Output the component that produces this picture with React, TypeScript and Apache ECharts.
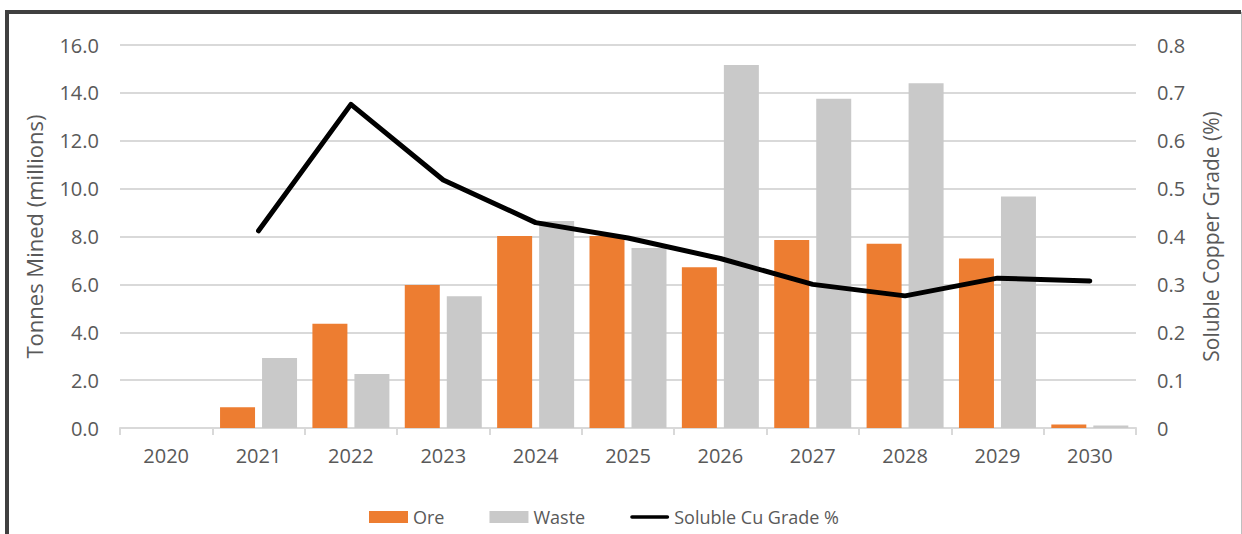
import React, { useEffect, useRef } from "react";
import * as echarts from "echarts";

const years = ["2020", "2021", "2022", "2023", "2024", "2025", "2026", "2027", "2028", "2029", "2030"];
const oreValues = [0, 0.87, 4.35, 5.97, 8.02, 8.02, 6.72, 7.85, 7.7, 7.08, 0.15];
const wasteValues = [0, 2.92, 2.26, 5.5, 8.65, 7.52, 15.16, 13.75, 14.4, 9.67, 0.1];
const gradeValues: (number | null)[] = [null, 0.412, 0.676, 0.518, 0.429, 0.397, 0.354, 0.3, 0.276, 0.313, 0.307];

const FONT = "'Open Sans', sans-serif";
const TEXT_GRAY = "#595959";

export default function App() {
  const ref = useRef<HTMLDivElement>(null);
  useEffect(() => {
    if (!ref.current) return;
    const chart = echarts.init(ref.current, undefined, { renderer: "svg" });
    chart.setOption({
      animation: false,
      backgroundColor: "#ffffff",
      textStyle: { fontFamily: FONT },
      grid: { left: 120, right: 106, top: 45, bottom: 106, containLabel: false },
      legend: {
        left: 364,
        top: 503,
        itemWidth: 39,
        itemHeight: 12,
        itemGap: 45,
        textStyle: { color: TEXT_GRAY, fontSize: 18, fontFamily: FONT },
        data: [
          { name: "Ore", icon: "rect" },
          { name: "Waste", icon: "rect" },
          {
            name: "Soluble Cu Grade %",
            icon: "path://M2,0 H41 A2,2 0 0 1 41,4 H2 A2,2 0 0 1 2,0 Z",
          },
        ],
      },
      xAxis: {
        type: "category",
        data: years,
        axisLine: { lineStyle: { color: "#d9d9d9", width: 2 } },
        axisTick: { show: true, length: 7, lineStyle: { color: "#d9d9d9", width: 2 } },
        axisLabel: { color: TEXT_GRAY, fontSize: 20, margin: 17, fontFamily: FONT },
      },
      yAxis: [
        {
          type: "value",
          min: 0,
          max: 16,
          interval: 2,
          name: "Tonnes Mined (millions)",
          nameLocation: "middle",
          nameGap: 75,
          nameTextStyle: { color: TEXT_GRAY, fontSize: 22, fontFamily: FONT },
          axisLine: { show: false },
          axisTick: { show: false },
          axisLabel: {
            color: TEXT_GRAY,
            fontSize: 20,
            margin: 21,
            fontFamily: FONT,
            formatter: (v: number) => v.toFixed(1),
          },
          splitLine: { lineStyle: { color: "#d9d9d9", width: 2 } },
        },
        {
          type: "value",
          min: 0,
          max: 0.8,
          interval: 0.1,
          name: "Soluble Copper Grade (%)",
          nameLocation: "middle",
          nameGap: 64,
          nameTextStyle: { color: TEXT_GRAY, fontSize: 21, fontFamily: FONT },
          axisLine: { show: false },
          axisTick: { show: false },
          axisLabel: {
            color: TEXT_GRAY,
            fontSize: 20,
            margin: 21,
            fontFamily: FONT,
            formatter: (v: number) => (v === 0 ? "0" : v.toFixed(1)),
          },
          splitLine: { show: false },
        },
      ],
      series: [
        {
          name: "Ore",
          type: "bar",
          data: oreValues,
          barWidth: 35,
          barGap: "20%",
          itemStyle: { color: "#ED7D31" },
        },
        {
          name: "Waste",
          type: "bar",
          data: wasteValues,
          barWidth: 35,
          barGap: "20%",
          itemStyle: { color: "#C9C9C9" },
        },
        {
          name: "Soluble Cu Grade %",
          type: "line",
          yAxisIndex: 1,
          data: gradeValues,
          symbol: "none",
          lineStyle: { color: "#000000", width: 5, cap: "round", join: "round" },
          itemStyle: { color: "#000000" },
          z: 5,
        },
      ],
      graphic: [
        {
          type: "line",
          shape: { x1: 7, y1: 12, x2: 7, y2: 534 },
          style: { stroke: "#404040", lineWidth: 4 },
          silent: true,
        },
        {
          type: "line",
          shape: { x1: 5, y1: 12, x2: 1241, y2: 12 },
          style: { stroke: "#404040", lineWidth: 4 },
          silent: true,
        },
        {
          type: "line",
          shape: { x1: 1241.5, y1: 12, x2: 1241.5, y2: 534 },
          style: { stroke: "#bfbfbf", lineWidth: 1 },
          silent: true,
        },
      ],
    });
    return () => chart.dispose();
  }, []);
  return (
    <div
      ref={ref}
      style={{ position: "fixed", left: 0, top: 0, width: 1242, height: 534 }}
    />
  );
}
